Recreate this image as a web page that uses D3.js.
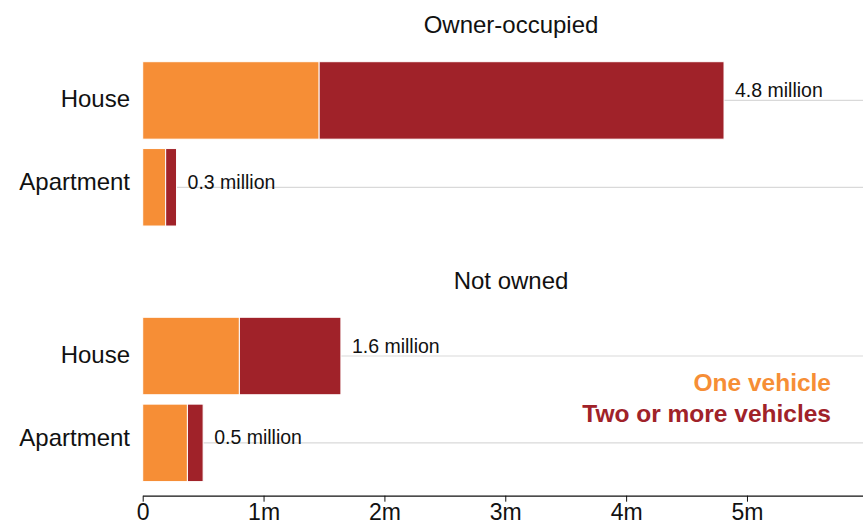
<!DOCTYPE html>
<html>
<head>
<meta charset="utf-8">
<script src="https://cdn.jsdelivr.net/npm/d3@7"></script>
<style>
  html, body { margin: 0; padding: 0; background: #fff; }
  svg { display: block; font-family: "Liberation Sans", Arial, Helvetica, sans-serif; }
</style>
</head>
<body>
<svg id="chart" width="863" height="523"></svg>
<script>
// Households by tenure, dwelling type and number of vehicles (millions)
const tenures = ["Owner-occupied", "Not owned"];
const dwellings = ["House", "Apartment"];
const oneVehicle = [[1.46, 0.19], [0.80, 0.37]];
const twoOrMore = [[3.35, 0.09], [0.84, 0.13]];
const seriesNames = ["One vehicle", "Two or more vehicles"];
const tickValues = [0, 1, 2, 3, 4, 5];

const colors = ["#f68e36", "#a02229"];
const W = 863, H = 523;

const svg = d3.select("#chart");

const x = d3.scaleLinear().domain([0, 5.96]).range([142.7, W]);

// outer bands: one per tenure panel
const panel = d3.scaleBand().domain(tenures).range([61.7, 481.6]).paddingInner(0.357);
// inner bands: dwelling rows within a panel
const row = d3.scaleBand().domain(dwellings).range([0, panel.bandwidth()]).paddingInner(0.108);

// small vertical nudges for the text beside each row
const labelShift = { House: 6.5, Apartment: 3 };
const valueShift = { House: -3.5, Apartment: 1.5 };

tenures.forEach((t, ti) => {
  const g = svg.append("g").attr("transform", `translate(0,${panel(t)})`);

  g.append("text")
    .attr("x", 511)
    .attr("y", -28.6)
    .attr("text-anchor", "middle")
    .attr("font-size", 24)
    .attr("fill", "#111")
    .text(t);

  dwellings.forEach((d, di) => {
    const a = oneVehicle[ti][di];
    const b = twoOrMore[ti][di];
    const total = a + b;
    const y0 = row(d);
    const bh = row.bandwidth();
    const cy = y0 + bh / 2;

    // guide line from bar end to the right edge
    g.append("line")
      .attr("x1", x(total)).attr("x2", W)
      .attr("y1", cy).attr("y2", cy)
      .attr("stroke", "#d9d9d9")
      .attr("stroke-width", 1.2);

    const segs = [[0, a], [a, total]];
    segs.forEach((s, si) => {
      g.append("rect")
        .attr("x", x(s[0]))
        .attr("y", y0)
        .attr("width", x(s[1]) - x(s[0]))
        .attr("height", bh)
        .attr("fill", colors[si])
        .attr("stroke", "#fff")
        .attr("stroke-width", 1);
    });

    g.append("text")
      .attr("x", 130)
      .attr("y", cy + labelShift[d])
      .attr("text-anchor", "end")
      .attr("font-size", 24)
      .attr("fill", "#111")
      .text(d);

    g.append("text")
      .attr("x", x(total) + 11)
      .attr("y", cy + valueShift[d])
      .attr("font-size", 19.5)
      .attr("fill", "#111")
      .text(total.toFixed(1) + " million");
  });
});

// x axis
const axis = d3.axisBottom(x)
  .tickValues(tickValues)
  .tickSizeInner(6)
  .tickSizeOuter(0)
  .tickPadding(2)
  .tickFormat(v => v === 0 ? "0" : v + "m");

const ax = svg.append("g")
  .attr("transform", "translate(0,495.7)")
  .call(axis);
ax.select(".domain").attr("stroke", "#111").attr("stroke-width", 1.2);
ax.selectAll(".tick line").attr("stroke", "#111");
ax.selectAll(".tick text")
  .attr("font-size", 23)
  .attr("font-family", "\"Liberation Sans\", Arial, Helvetica, sans-serif")
  .attr("fill", "#111");

// legend
const legend = svg.append("g");
seriesNames.forEach((n, i) => {
  legend.append("text")
    .attr("x", 831)
    .attr("y", 391 + i * 30.5)
    .attr("text-anchor", "end")
    .attr("font-size", 24.5)
    .attr("font-weight", "bold")
    .attr("fill", colors[i])
    .text(n);
});
</script>
</body>
</html>
